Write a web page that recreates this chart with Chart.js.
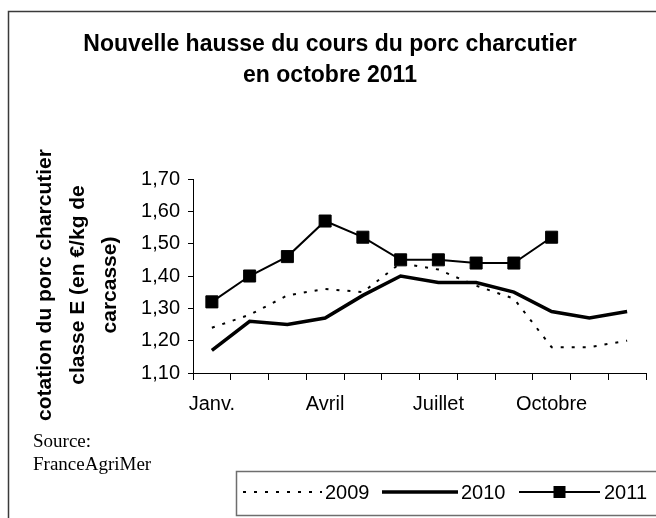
<!DOCTYPE html>
<html>
<head>
<meta charset="utf-8">
<script src="https://cdn.jsdelivr.net/npm/chart.js@4"></script>
<style>
  html, body { margin: 0; padding: 0; background: #fff; }
  canvas { display: block; }
</style>
</head>
<body>
<canvas id="chart" width="656" height="518"></canvas>
<script>
// month labels (only every third one is printed)
const months = ['Janv.', '', '', 'Avril', '', '', 'Juillet', '', '', 'Octobre', '', ''];
const years = ['2009', '2010', '2011'];
const prices2009 = [1.24, 1.28, 1.34, 1.36, 1.35, 1.44, 1.42, 1.37, 1.33, 1.18, 1.18, 1.20];
const prices2010 = [1.17, 1.26, 1.25, 1.27, 1.34, 1.40, 1.38, 1.38, 1.35, 1.29, 1.27, 1.29];
const prices2011 = [1.32, 1.40, 1.46, 1.57, 1.52, 1.45, 1.45, 1.44, 1.44, 1.52, null, null];
const titleLines = ['Nouvelle hausse du cours du porc charcutier', 'en octobre 2011'];
const yTitleLines = ['cotation du porc charcutier', 'classe E (en €/kg de', 'carcasse)'];
const sourceLines = ['Source:', 'FranceAgriMer'];

const SANS = "'Liberation Sans', Arial, sans-serif";
const SERIF = "'Liberation Serif', 'Times New Roman', serif";

// frame, titles, source note and the Excel-style legend box
const decorations = {
    id: 'decorations',
    beforeDraw(chart) {
        const ctx = chart.ctx;
        ctx.save();
        ctx.fillStyle = '#fff';
        ctx.fillRect(0, 0, chart.width, chart.height);
        // outer frame (right and bottom sides fall outside the picture)
        ctx.strokeStyle = '#3a3a3a';
        ctx.lineWidth = 1.5;
        ctx.strokeRect(8.5, 11.5, 700, 600);
        ctx.restore();
    },
    afterDraw(chart) {
        const ctx = chart.ctx;
        ctx.save();
        ctx.fillStyle = '#000';
        ctx.textAlign = 'center';
        ctx.textBaseline = 'middle';

        ctx.font = 'bold 23px ' + SANS;
        ctx.fillText(titleLines[0], 330, 45);
        ctx.fillText(titleLines[1], 330, 76);

        // rotated axis title, three lines
        ctx.save();
        ctx.translate(0, 285);
        ctx.rotate(-Math.PI / 2);
        ctx.font = 'bold 21px ' + SANS;
        [45, 78, 110].forEach((x, i) => {
            ctx.fillText(yTitleLines[i], 0, x);
        });
        ctx.restore();

        ctx.textAlign = 'left';
        ctx.font = '19px ' + SERIF;
        ctx.fillText(sourceLines[0], 33, 442);
        ctx.fillText(sourceLines[1], 33, 465);

        // legend box
        ctx.strokeStyle = '#6e6e6e';
        ctx.lineWidth = 1.5;
        ctx.strokeRect(236.5, 471.5, 500, 44);

        const ly = 492;
        const ds = chart.data.datasets;
        const items = [
            { x0: 243, x1: 322, tx: 325 },
            { x0: 382, x1: 458, tx: 461 },
            { x0: 519, x1: 600, tx: 604 }
        ];
        ctx.font = '20px ' + SANS;
        items.forEach((it, i) => {
            const d = ds[i];
            ctx.save();
            ctx.strokeStyle = d.borderColor;
            ctx.lineWidth = d.borderWidth;
            ctx.setLineDash(d.borderDash || []);
            ctx.beginPath();
            ctx.moveTo(it.x0, ly);
            ctx.lineTo(it.x1, ly);
            ctx.stroke();
            ctx.restore();
            if (d.pointRadius > 0) {
                const s = 12;
                const cx = (it.x0 + it.x1) / 2;
                ctx.fillRect(cx - s / 2, ly - s / 2, s, s);
            }
            ctx.fillText(d.label, it.tx, ly + 1);
        });
        ctx.restore();
    }
};

new Chart(document.getElementById('chart'), {
    type: 'line',
    data: {
        labels: months,
        datasets: [
            {
                label: years[0],
                data: prices2009,
                borderColor: '#000',
                borderWidth: 2,
                borderDash: [3, 8],
                pointRadius: 0,
                tension: 0
            },
            {
                label: years[1],
                data: prices2010,
                borderColor: '#000',
                borderWidth: 3.5,
                pointRadius: 0,
                tension: 0
            },
            {
                label: years[2],
                data: prices2011,
                borderColor: '#000',
                borderWidth: 2,
                pointStyle: 'rect',
                pointRadius: 8.5,
                pointBackgroundColor: '#000',
                pointBorderColor: '#000',
                pointBorderWidth: 1,
                tension: 0
            }
        ]
    },
    options: {
        responsive: false,
        animation: false,
        events: [],
        layout: { padding: { top: 179, right: 10, left: 0, bottom: 0 } },
        plugins: {
            legend: { display: false },
            title: { display: false },
            tooltip: { enabled: false }
        },
        scales: {
            x: {
                offset: true,
                grid: {
                    offset: true,
                    drawOnChartArea: false,
                    drawTicks: true,
                    tickLength: 7,
                    color: '#000'
                },
                border: { display: true, color: '#000', width: 1 },
                ticks: {
                    autoSkip: false,
                    maxRotation: 0,
                    padding: 12,
                    color: '#000',
                    font: { family: SANS, size: 20 }
                },
                afterFit(scale) { scale.height = 518 - 373; }
            },
            y: {
                min: 1.1,
                max: 1.7,
                grid: {
                    drawOnChartArea: false,
                    drawTicks: true,
                    tickLength: 5,
                    color: '#000'
                },
                border: { display: true, color: '#000', width: 1 },
                ticks: {
                    stepSize: 0.1,
                    padding: 8,
                    color: '#000',
                    font: { family: SANS, size: 20 },
                    callback: v => v.toFixed(2).replace('.', ',')
                },
                afterFit(scale) { scale.width = 193; }
            }
        }
    },
    plugins: [decorations]
});
</script>
</body>
</html>
